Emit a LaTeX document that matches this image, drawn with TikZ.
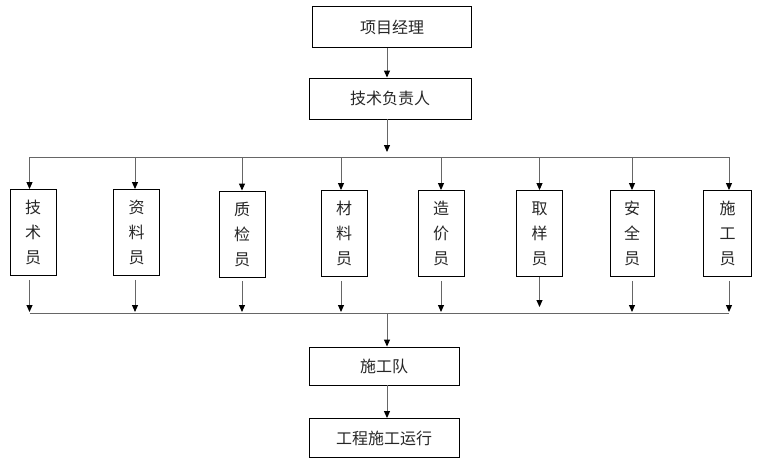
\documentclass[tikz,border=0pt]{standalone}
\usepackage{fontspec}
\setmainfont{Noto Sans CJK SC}
\usetikzlibrary{arrows.meta}
\tikzstyle{box} = [rectangle, draw=black, line width=0.9pt, inner sep=0, text=black!85, font=\fontsize{16}{25}\selectfont]
\tikzstyle{hbox} = [box, minimum width=150pt, minimum height=40pt]
\tikzstyle{vbox} = [box, minimum width=46pt, minimum height=86pt, align=center]
\tikzstyle{line} = [draw=black!60, line width=1pt]
\tikzstyle{arrow} = [line, -{Triangle[width=6pt,length=7pt,color=black]}]

\begin{document}
\begin{tikzpicture}[x=1pt,y=-1pt]
\useasboundingbox (0,0) rectangle (760,464);
% top of the chart
\node[hbox,minimum width=159pt,minimum height=41pt] (pm) at (392,27) {项目经理};
\node[hbox,minimum width=162pt,minimum height=41pt] (tl) at (390,98.5) {技术负责人};
\coordinate (split) at (387,157);
\coordinate (join) at (387,313);
\draw[arrow] (pm.south -| split) -- (tl.north -| split);
\draw[arrow] (tl.south -| split) -- ([yshift=5pt]split);
% staff boxes
\node[vbox] (b1) at (33,232.5) {技\\术\\员};
\node[vbox] (b2) at (136.5,232.5) {资\\料\\员};
\node[vbox] (b3) at (242,234) {质\\检\\员};
\node[vbox] (b4) at (344,233.5) {材\\料\\员};
\node[vbox] (b5) at (441,233.5) {造\\价\\员};
\node[vbox] (b6) at (539.5,233.5) {取\\样\\员};
\node[vbox,minimum width=44pt] (b7) at (632,233.5) {安\\全\\员};
\node[vbox,minimum width=48pt] (b8) at (727.5,233.5) {施\\工\\员};
\coordinate (c1) at (29.5,157);
\coordinate (c2) at (135,157);
\coordinate (c3) at (242,157);
\coordinate (c4) at (341,157);
\coordinate (c5) at (441,157);
\coordinate (c6) at (539.5,157);
\coordinate (c7) at (632,157);
\coordinate (c8) at (729,157);
\draw[line] (c1) -- (c8);
\draw[arrow] (c1) -- (c1 |- b1.north);
\draw[arrow] (c2) -- (c2 |- b2.north);
\draw[arrow] (c3) -- (c3 |- b3.north);
\draw[arrow] (c4) -- (c4 |- b4.north);
\draw[arrow] (c5) -- (c5 |- b5.north);
\draw[arrow] (c6) -- (c6 |- b6.north);
\draw[arrow] (c7) -- (c7 |- b7.north);
\draw[arrow] (c8) -- (c8 |- b8.north);
% down to the bottom line
\draw[arrow] ([yshift=-4pt]c1 |- b1.south) -- ([yshift=1pt]c1 |- join);
\draw[arrow] ([yshift=-4pt]c2 |- b2.south) -- ([yshift=1pt]c2 |- join);
\draw[arrow] ([yshift=-4pt]c3 |- b3.south) -- ([yshift=1pt]c3 |- join);
\draw[arrow] ([yshift=-4pt]c4 |- b4.south) -- ([yshift=1pt]c4 |- join);
\draw[arrow] ([yshift=-4pt]c5 |- b5.south) -- ([yshift=1pt]c5 |- join);
\draw[arrow] (c6 |- b6.south) -- ([yshift=6pt]c6 |- join);
\draw[arrow] ([yshift=-4pt]c7 |- b7.south) -- ([yshift=1pt]c7 |- join);
\draw[arrow] ([yshift=-4pt]c8 |- b8.south) -- ([yshift=1pt]c8 |- join);
\draw[line] (c1 |- join) -- (c8 |- join);
% bottom of the chart
\node[hbox,minimum height=38pt] (team) at (384,366) {施工队};
\node[hbox,minimum height=39pt] (run) at (384,438) {工程施工运行};
\draw[arrow] (join) -- (join |- team.north);
\draw[arrow] (join |- team.south) -- (join |- run.north);
\end{tikzpicture}
\end{document}
